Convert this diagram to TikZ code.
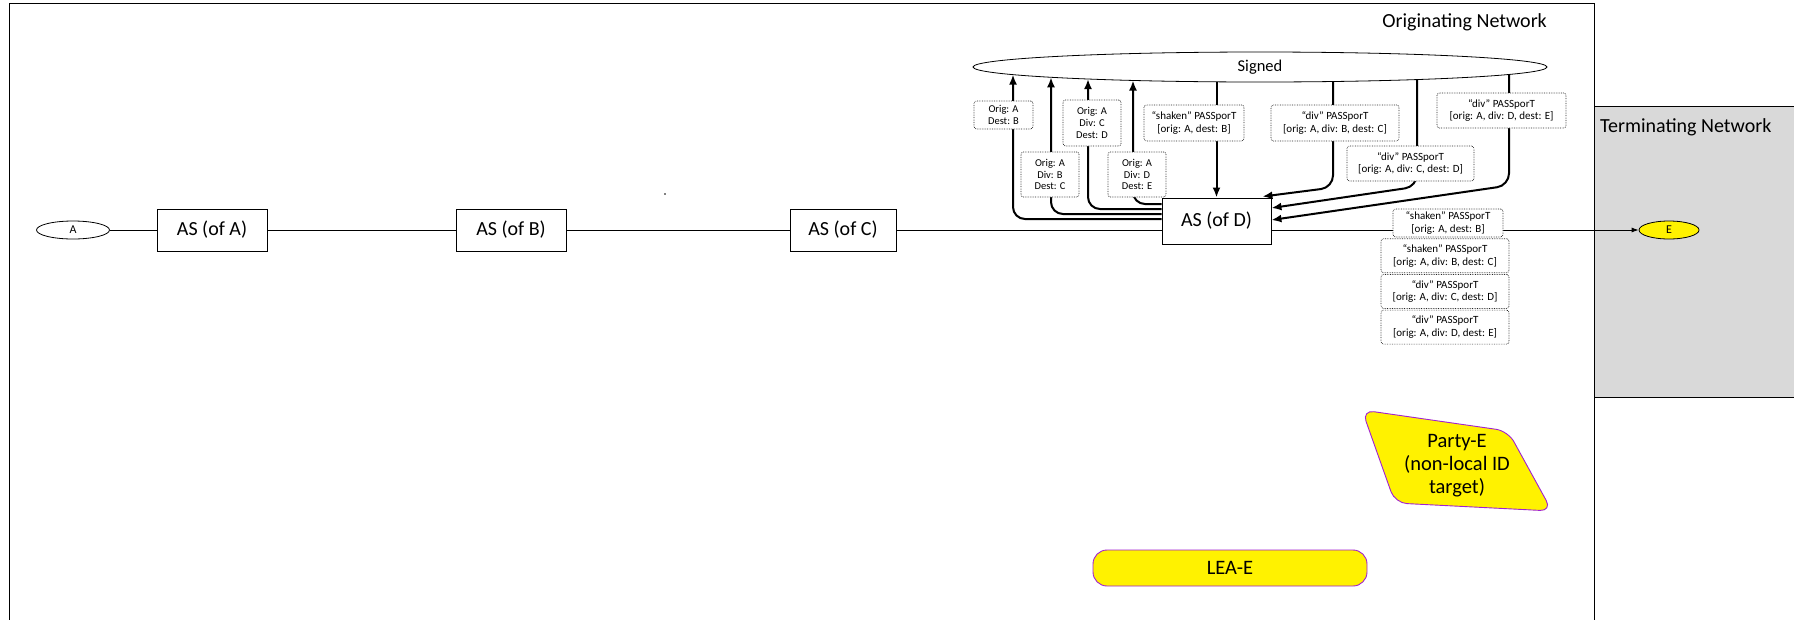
\documentclass[tikz,border=0pt]{standalone}
\usepackage{fontspec}
\setmainfont{Carlito}
\usetikzlibrary{positioning,shapes.geometric,arrows.meta}
\definecolor{termgray}{RGB}{217,217,217}
\definecolor{leapurple}{RGB}{160,32,210}

\begin{document}
\begin{tikzpicture}[x=1pt, y=-1pt,
    asbox/.style={rectangle, draw, line width=0.9pt, fill=white, minimum width=110pt, minimum height=42pt, font=\fontsize{20}{24}\selectfont},
    endpt/.style={ellipse, draw, line width=0.8pt, minimum width=73pt, minimum height=18pt, inner sep=0pt, font=\fontsize{12}{14}\selectfont},
    tag/.style={rectangle, draw=black!85, densely dotted, line width=0.7pt, rounded corners=2.5pt, fill=white, align=center, inner sep=2pt, font=\fontsize{10.5}{11.7}\selectfont},
    pass/.style={tag, font=\fontsize{11}{12.7}\selectfont, minimum height=35pt, minimum width=128pt},
    arrow/.style={-{Latex[length=10pt,width=8pt]}, line width=2pt, rounded corners=12pt},
    target/.style={draw=leapurple, line width=0.9pt, fill=yellow, align=center, font=\fontsize{20.5}{23}\selectfont}
]
    \useasboundingbox (0,0) rectangle (1794,619);

    % Netze
    \draw[line width=1pt] (9,630) -- (9,3) -- (1594,3) -- (1594,630);
    \draw[line width=1pt, fill=termgray] (1594,106) rectangle (1800,397);
    \node[anchor=east, inner sep=0pt, font=\fontsize{20}{24}\selectfont] (orignet) at (1547,22) {Originating Network};
    \node[anchor=west, inner sep=0pt, font=\fontsize{20}{24}\selectfont] (termnet) at (1600,127) {Terminating Network};

    % Knoten
    \node[endpt] (ptA) at (73,230) {A};
    \node[asbox] (asA) at (212,230) {AS (of A)};
    \node[asbox] (asB) at (511,230) {AS (of B)};
    \node[asbox, minimum width=106pt] (asC) at (843,230) {AS (of C)};
    \node[asbox, minimum width=109pt, minimum height=46pt] (asD) at (1216.5,221) {AS (of D)};
    \node[endpt, fill=yellow, minimum width=60pt] (ptE) at (1669,230) {E};
    \node[circle, fill, inner sep=0.6pt] (stray) at (665,194) {};
    \node[ellipse, draw, line width=0.8pt, fill=white, minimum width=574pt, minimum height=30pt, inner sep=0pt, font=\fontsize{16.5}{20}\selectfont] (signed) at (1260,67) {Signed};

    % Rand der Ellipse
    \coordinate (up1) at (1013,74.6);
    \coordinate (up2) at (1051,77.3);
    \coordinate (up3) at (1088,79);
    \coordinate (up4) at (1133,80.5);
    \coordinate (dn2) at (1333,81.5);
    \coordinate (dn3) at (1417,79.6);
    \coordinate (dn4) at (1509,74.5);

    % Verbindungen
    \draw[line width=0.8pt] (ptA) -- (asA) -- (asB) -- (asC) -- (asC -| asD.west);
    \draw[line width=0.8pt, -{Latex[length=7pt,width=5pt]}] (ptE -| asD.east) -- (ptE);

    \draw[arrow] ([yshift=2pt]asD.west) -| (up1);
    \draw[arrow] ([yshift=7pt]asD.west) -| (up2);
    \draw[arrow] ([yshift=12pt]asD.west) -| (up3);
    \draw[arrow] ([yshift=17pt]asD.west) -| (up4);

    \draw[arrow] (signed.south -| asD.north) -- (asD.north);
    \draw[arrow] (dn2) -- ++(0,106) -- ([xshift=-9pt, yshift=1pt]asD.north east);
    \draw[arrow] (dn3) -- ++(0,107) -- ([yshift=13pt]asD.east);
    \draw[arrow] (dn4) -- ++(0,111) -- ([yshift=1pt]asD.east);

    % Beschriftungen
    \node[tag, minimum width=59pt, minimum height=28pt] (tagAB) at (1003.5,115) {Orig: A\\Dest: B};
    \node[tag, minimum width=58pt, minimum height=45pt] (tagABC) at (1050,174.5) {Orig: A\\Div: B\\Dest: C};
    \node[tag, minimum width=58pt, minimum height=46pt] (tagACD) at (1092,123) {Orig: A\\Div: C\\Dest: D};
    \node[tag, minimum width=58pt, minimum height=45pt] (tagADE) at (1137,174.5) {Orig: A\\Div: D\\Dest: E};

    \node[pass, minimum width=100pt, minimum height=36pt] (passAB) at (1194,123) {“shaken” PASSporT\\{}[orig: A, dest: B]};
    \node[pass, minimum height=36pt] (passABC) at (1335,123) {“div” PASSporT\\{}[orig: A, div: B, dest: C]};
    \node[pass, minimum width=127pt] (passACD) at (1410.5,163.5) {“div” PASSporT\\{}[orig: A, div: C, dest: D]};
    \node[pass, minimum width=129pt] (passADE) at (1501.5,110.5) {“div” PASSporT\\{}[orig: A, div: D, dest: E]};

    \node[pass, minimum width=110pt, minimum height=28pt] (lowAB) at (1448,223) {“shaken” PASSporT\\{}[orig: A, dest: B]};
    \node[pass, minimum height=34pt, below=1pt of lowAB, xshift=-3pt] (lowABC) {“shaken” PASSporT\\{}[orig: A, div: B, dest: C]};
    \node[pass, minimum height=34pt, below=1pt of lowABC] (lowACD) {“div” PASSporT\\{}[orig: A, div: C, dest: D]};
    \node[pass, minimum height=34pt, below=1pt of lowACD] (lowADE) {“div” PASSporT\\{}[orig: A, div: D, dest: E]};

    % Ziele
    \draw[target, rounded corners=12pt] (1362,410) -- (1508,431) -- (1552,511) -- (1395,503) -- cycle;
    \node[align=center, font=\fontsize{20.5}{23}\selectfont] (partyE) at (1457,466) {Party-E\\(non-local ID\\target)};
    \node[target, rounded corners=14pt, minimum width=274pt, minimum height=36pt] (leaE) at (1230,568) {LEA-E};
\end{tikzpicture}
\end{document}
